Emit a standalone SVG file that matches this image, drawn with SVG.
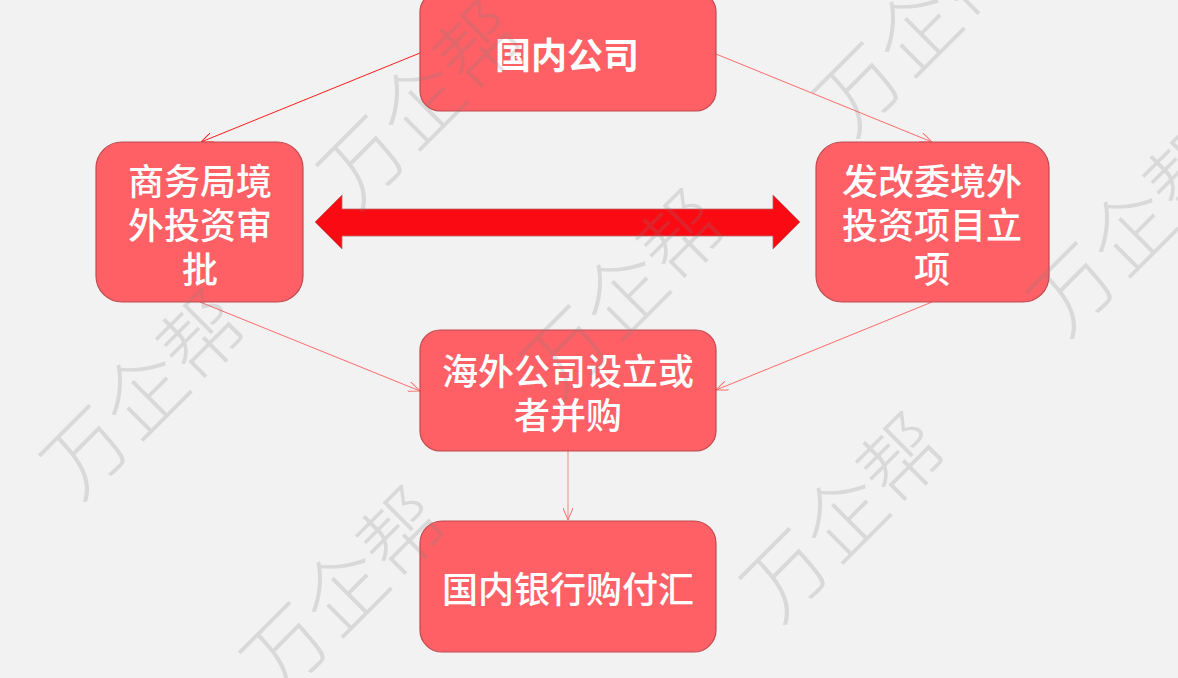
<svg xmlns="http://www.w3.org/2000/svg" width="1178" height="678" viewBox="0 0 1178 678">
<defs>
<style>
.box{fill:#fe6066;stroke:#be4a50;stroke-width:1.2}
.t{font-family:"Noto Sans CJK SC","Noto Sans CJK JP",sans-serif;fill:#ffffff;font-size:36px;font-weight:500;text-anchor:middle;dominant-baseline:central}
.tb{font-weight:700}
.c{fill:none;stroke:#ff6b6b;stroke-width:1}
.wm{font-family:"Noto Sans CJK SC",sans-serif;font-weight:300;font-size:82px;fill:#808080;fill-opacity:0.22;text-anchor:middle;dominant-baseline:central}
</style>
<marker id="ah" viewBox="0 0 12 10" refX="12" refY="5" markerWidth="12" markerHeight="10" markerUnits="userSpaceOnUse" orient="auto">
<path d="M0,0 L12,5 L0,10" fill="none" stroke="#ff6b6b" stroke-width="1"/>
</marker>
<marker id="ah2" viewBox="0 0 12 10" refX="12" refY="5" markerWidth="12" markerHeight="10" markerUnits="userSpaceOnUse" orient="auto">
<path d="M0,0 L12,5 L0,10" fill="none" stroke="#ff1a1a" stroke-width="1"/>
</marker>
</defs>
<rect x="0" y="0" width="1178" height="678" fill="#f2f2f2"/>
<g id="connectors">
<line x1="420" y1="53" x2="201" y2="142" class="c" style="stroke:#ff1a1a" marker-end="url(#ah2)"/>
<line x1="716" y1="54" x2="932" y2="142" class="c" marker-end="url(#ah)"/>
<line x1="200" y1="302" x2="420" y2="391" class="c" marker-end="url(#ah)"/>
<line x1="932" y1="302" x2="716" y2="390" class="c" marker-end="url(#ah)"/>
<line x1="568" y1="451" x2="568" y2="520" class="c" style="stroke:#f08a8a" marker-end="url(#ah)"/>
<polygon points="315,222 342,195 342,209 773,209 773,195 800,222 773,249 773,236 342,236 342,249" fill="#fa0a12" stroke="#b86a6a" stroke-width="0.8"/>
</g>
<g id="n1">
<rect class="box" x="420" y="-8" width="296" height="119" rx="20"/>
<text class="t tb" x="567" y="53">国内公司</text>
</g>
<g id="n2">
<rect class="box" x="96" y="142" width="207" height="160" rx="26"/>
<text class="t" x="200" y="179">商务局境</text>
<text class="t" x="200" y="223">外投资审</text>
<text class="t" x="200" y="267">批</text>
</g>
<g id="n3">
<rect class="box" x="816" y="142" width="233" height="160" rx="26"/>
<text class="t" x="932" y="179">发改委境外</text>
<text class="t" x="932" y="223">投资项目立</text>
<text class="t" x="932" y="267">项</text>
</g>
<g id="n4">
<rect class="box" x="420" y="330" width="296" height="121" rx="20"/>
<text class="t" x="568" y="369">海外公司设立或</text>
<text class="t" x="568" y="413">者并购</text>
</g>
<g id="n5">
<rect class="box" x="420" y="521" width="296" height="131" rx="22"/>
<text class="t" x="568" y="587">国内银行购付汇</text>
</g>
<g id="watermarks">
<text class="wm" transform="rotate(-45 140 390)" x="140" y="390">万企帮</text>
<text class="wm" transform="rotate(-45 340 587)" x="340" y="587">万企帮</text>
<text class="wm" transform="rotate(-45 417 100)" x="417" y="100">万企帮</text>
<text class="wm" transform="rotate(-45 620 290)" x="620" y="290">万企帮</text>
<text class="wm" transform="rotate(-45 840 513)" x="840" y="513">万企帮</text>
<text class="wm" transform="rotate(-45 913 27)" x="913" y="27">万企帮</text>
<text class="wm" transform="rotate(-45 1127 227)" x="1127" y="227">万企帮</text>
</g>
</svg>
